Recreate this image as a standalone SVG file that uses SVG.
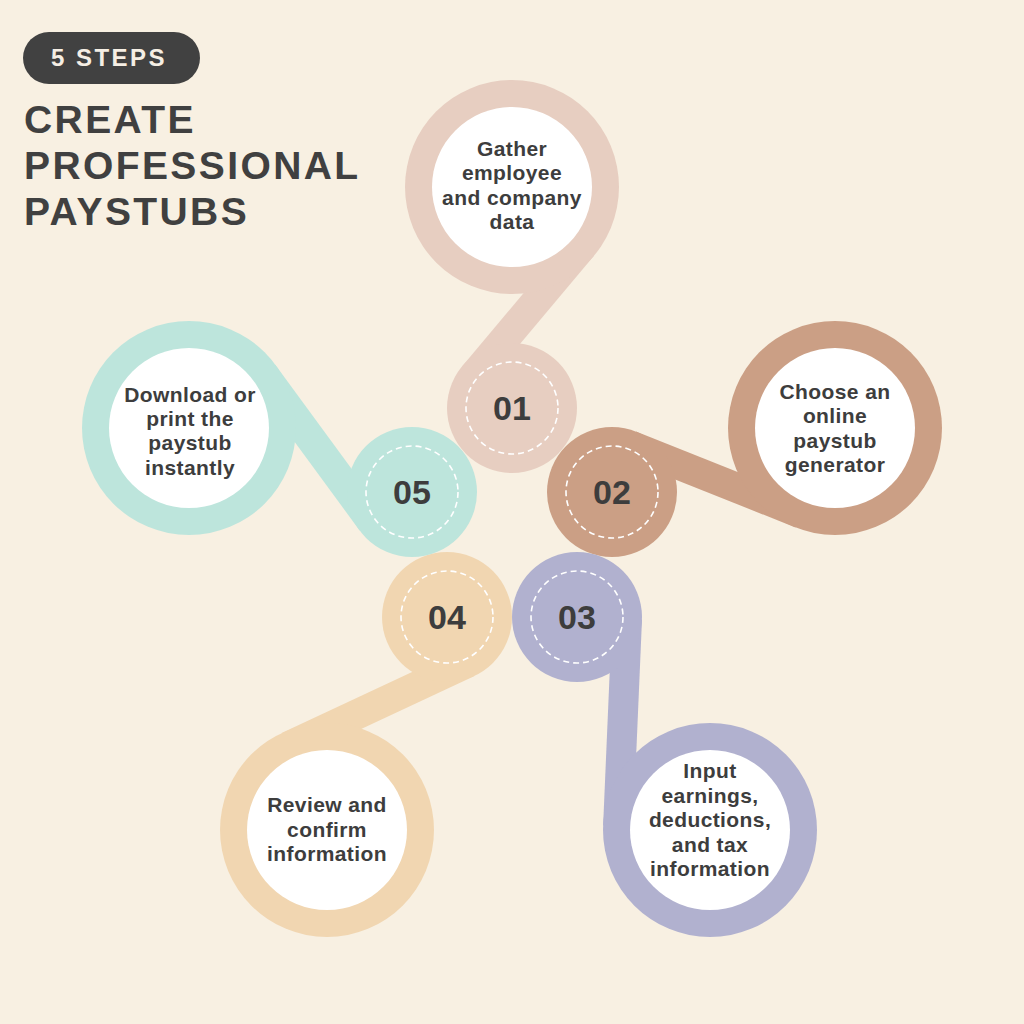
<svg xmlns="http://www.w3.org/2000/svg" width="1024" height="1024" viewBox="0 0 1024 1024">
<style>
.bg{fill:#F8F0E2}
.c1{fill:#E7CEC1}.s1{stroke:#E7CEC1}
.c2{fill:#CB9F85}.s2{stroke:#CB9F85}
.c3{fill:#B1B1CF}.s3{stroke:#B1B1CF}
.c4{fill:#F1D6B1}.s4{stroke:#F1D6B1}
.c5{fill:#BDE5DC}.s5{stroke:#BDE5DC}
.inner{fill:#FFFFFF}
.dash{fill:none;stroke:#FFFFFF;stroke-width:1.6;stroke-dasharray:6 4}
.conn line{stroke-width:30;stroke-linecap:butt;fill:none}
.num{font-family:"Liberation Sans",Arial,sans-serif;font-weight:700;font-size:34px;fill:#3D3D3D;text-anchor:middle}
.lbl{font-family:"Liberation Sans",Arial,sans-serif;font-weight:700;font-size:21px;fill:#3D3D3D;text-anchor:middle;letter-spacing:0.4px}
.title{font-family:"Liberation Sans",Arial,sans-serif;font-weight:700;font-size:39px;fill:#404040;letter-spacing:2.4px}
.pilltxt{font-family:"Liberation Sans",Arial,sans-serif;font-weight:700;font-size:24px;fill:#F5EEE4;letter-spacing:2.5px;text-anchor:middle}
</style>
<rect class="bg" x="0" y="0" width="1024" height="1024"/>

<g id="header">
<rect x="23" y="32" width="177" height="52" rx="26" fill="#414141"/>
<text class="pilltxt" x="109" y="66">5 STEPS</text>
<text class="title" x="24" y="133">CREATE</text>
<text class="title" x="24" y="179">PROFESSIONAL</text>
<text class="title" x="24" y="225">PAYSTUBS</text>
</g>

<g id="connectors" class="conn">
<line class="s1" x1="582.5" y1="246.1" x2="473.7" y2="375.9"/>
<line class="s2" x1="801.0" y1="513.5" x2="630.5" y2="445.5"/>
<line class="s3" x1="618.1" y1="826.1" x2="627.0" y2="619.1"/>
<line class="s4" x1="288.0" y1="746.7" x2="468.2" y2="662.3"/>
<line class="s5" x1="263.2" y1="373.6" x2="371.7" y2="521.6"/>
</g>

<g id="step1">
<circle class="c1" cx="512" cy="187" r="107"/>
<circle class="inner" cx="512" cy="187" r="80"/>
<circle class="c1" cx="512" cy="408" r="65"/>
<circle class="dash" cx="512" cy="408" r="46"/>
<text class="num" x="512" y="420">01</text>
<text class="lbl" x="512" y="156">Gather</text>
<text class="lbl" x="512" y="180">employee</text>
<text class="lbl" x="512" y="205">and company</text>
<text class="lbl" x="512" y="229">data</text>
</g>

<g id="step2">
<circle class="c2" cx="835" cy="428" r="107"/>
<circle class="inner" cx="835" cy="428" r="80"/>
<circle class="c2" cx="612" cy="492" r="65"/>
<circle class="dash" cx="612" cy="492" r="46"/>
<text class="num" x="612" y="504">02</text>
<text class="lbl" x="835" y="399">Choose an</text>
<text class="lbl" x="835" y="423">online</text>
<text class="lbl" x="835" y="448">paystub</text>
<text class="lbl" x="835" y="472">generator</text>
</g>

<g id="step3">
<circle class="c3" cx="710" cy="830" r="107"/>
<circle class="inner" cx="710" cy="830" r="80"/>
<circle class="c3" cx="577" cy="617" r="65"/>
<circle class="dash" cx="577" cy="617" r="46"/>
<text class="num" x="577" y="629">03</text>
<text class="lbl" x="710" y="778">Input</text>
<text class="lbl" x="710" y="803">earnings,</text>
<text class="lbl" x="710" y="827">deductions,</text>
<text class="lbl" x="710" y="852">and tax</text>
<text class="lbl" x="710" y="876">information</text>
</g>

<g id="step4">
<circle class="c4" cx="327" cy="830" r="107"/>
<circle class="inner" cx="327" cy="830" r="80"/>
<circle class="c4" cx="447" cy="617" r="65"/>
<circle class="dash" cx="447" cy="617" r="46"/>
<text class="num" x="447" y="629">04</text>
<text class="lbl" x="327" y="812">Review and</text>
<text class="lbl" x="327" y="837">confirm</text>
<text class="lbl" x="327" y="861">information</text>
</g>

<g id="step5">
<circle class="c5" cx="189" cy="428" r="107"/>
<circle class="inner" cx="189" cy="428" r="80"/>
<circle class="c5" cx="412" cy="492" r="65"/>
<circle class="dash" cx="412" cy="492" r="46"/>
<text class="num" x="412" y="504">05</text>
<text class="lbl" x="190" y="402">Download or</text>
<text class="lbl" x="190" y="426">print the</text>
<text class="lbl" x="190" y="450">paystub</text>
<text class="lbl" x="190" y="475">instantly</text>
</g>
</svg>
